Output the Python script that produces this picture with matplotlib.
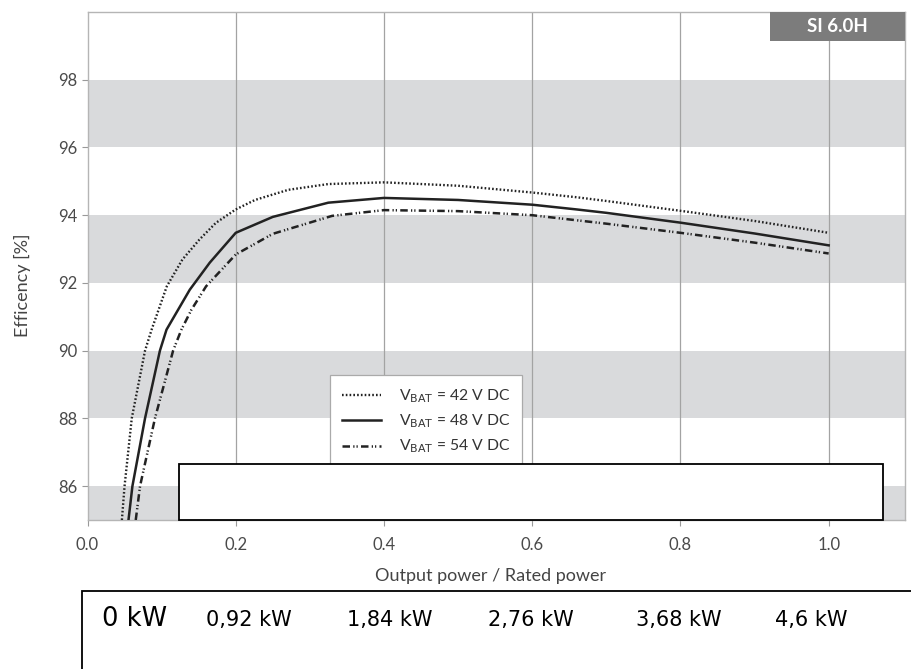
import matplotlib
matplotlib.use("Agg")
import matplotlib.pyplot as plt
from matplotlib.patches import Rectangle

# datos (potencia relativa, eficiencia %)
x42 = [0.0464, 0.050, 0.0597, 0.0776, 0.0865, 0.107, 0.128, 0.151, 0.173, 0.2, 0.226, 0.271, 0.325, 0.4, 0.5, 0.6, 0.66, 0.7, 0.8, 0.9, 1.0]
y42 = [85.0, 86.0, 88.0, 90.0, 90.62, 91.9, 92.69, 93.28, 93.77, 94.17, 94.45, 94.75, 94.92, 94.97, 94.87, 94.67, 94.53, 94.42, 94.13, 93.83, 93.48]

x48 = [0.0553, 0.0606, 0.0776, 0.0977, 0.1066, 0.138, 0.165, 0.2, 0.25, 0.325, 0.4, 0.5, 0.6, 0.66, 0.7, 0.8, 0.9, 1.0]
y48 = [85.0, 86.0, 88.0, 90.0, 90.62, 91.8, 92.6, 93.48, 93.95, 94.37, 94.51, 94.45, 94.31, 94.17, 94.07, 93.78, 93.46, 93.11]

x54 = [0.0651, 0.0709, 0.091, 0.1155, 0.1267, 0.14, 0.160, 0.2, 0.25, 0.33, 0.4, 0.5, 0.6, 0.66, 0.7, 0.8, 0.9, 1.0]
y54 = [85.0, 86.0, 88.0, 90.0, 90.62, 91.2, 91.9, 92.84, 93.45, 93.98, 94.15, 94.12, 94.0, 93.85, 93.75, 93.48, 93.19, 92.87]

etiquetas = [r"V$_{\mathrm{BAT}}$ = 42 V DC", r"V$_{\mathrm{BAT}}$ = 48 V DC", r"V$_{\mathrm{BAT}}$ = 54 V DC"]
xticks = [0.0, 0.2, 0.4, 0.6, 0.8, 1.0]
yticks = [86, 88, 90, 92, 94, 96, 98]
bandas = [(84, 86), (88, 90), (92, 94), (96, 98)]
potencias = ["0 kW", "0,92 kW", "1,84 kW", "2,76 kW", "3,68 kW", "4,6 kW"]
pos_kw = [102, 206, 347, 488, 636, 775]   # px desde la izquierda

plt.rcParams["font.family"] = ["Lato", "DejaVu Sans"]
plt.rcParams["mathtext.default"] = "regular"

W, H = 911, 669
fig = plt.figure(figsize=(W / 100, H / 100), dpi=100)
# ejes: izq 87.5 px, der 905 px, arriba 12 px, abajo 520 px
ax = fig.add_axes([87.5 / W, 1 - 520 / H, (905 - 87.5) / W, (520 - 12) / H])
ax.set_xlim(0, 1.103)
ax.set_ylim(85, 100)

for a, b in bandas:
    ax.axhspan(a, b, color="#d9dadc", lw=0, zorder=0)
for xv in xticks[1:]:
    ax.axvline(xv, color="#a3a3a3", lw=0.9, zorder=1)

ax.plot(x42, y42, color="#222222", lw=1.7, linestyle=(0, (0.7, 0.9)), label=etiquetas[0], zorder=3)
ax.plot(x48, y48, color="#222222", lw=1.8, linestyle="-", label=etiquetas[1], zorder=3)
ax.plot(x54, y54, color="#222222", lw=1.8, linestyle=(0, (3.0, 1.3, 0.5, 0.8, 0.5, 1.3)), label=etiquetas[2], zorder=3)

ax.set_xticks(xticks)
ax.set_xticklabels(["%.1f" % v for v in xticks])
ax.set_yticks(yticks)
ax.tick_params(colors="#999999", labelcolor="#4a4a4a", labelsize=12, length=4, width=0.8)
ax.tick_params(axis="x", pad=8)
for s in ax.spines.values():
    s.set_color("#b5b5b5")
    s.set_linewidth(1.0)

ax.set_xlabel("Output power / Rated power", fontsize=13, color="#444444")
ax.xaxis.set_label_coords((491 - 87.5) / (905 - 87.5), 1 - (568 - 12) / 508)
ax.set_ylabel("Efficency [%]", fontsize=13, color="#444444")
ax.yaxis.set_label_coords((31 - 87.5) / (905 - 87.5), 1 - (285 - 12) / 508)

leg = ax.legend(loc="upper left", bbox_to_anchor=((329.5 - 87.5) / (905 - 87.5), 1 - (375 - 12) / 508),
                borderaxespad=0, fancybox=False, fontsize=11.3, handlelength=2.5,
                handletextpad=1.1, labelspacing=0.5, borderpad=0.8, framealpha=1)
leg.get_frame().set_edgecolor("#aaaaaa")
leg.get_frame().set_linewidth(0.9)
for t in leg.get_texts():
    t.set_color("#333333")

# etiqueta del modelo
x0 = (770 - 87.5) / (905 - 87.5)
ax.add_patch(Rectangle((x0, 1 - 29 / 508), 1 - x0, 29 / 508, transform=ax.transAxes,
                       facecolor="#7c7c7c", edgecolor="none", zorder=5, clip_on=False))
ax.text((x0 + 1) / 2, 1 - 14.5 / 508, "SI 6.0H", transform=ax.transAxes, ha="center", va="center",
        color="white", fontsize=13.5, fontweight="bold", zorder=6)

# rectangulo blanco que tapa la parte baja
fig.patches.append(Rectangle((179 / W, 1 - 520 / H), (883 - 179) / W, (520 - 464) / H,
                             transform=fig.transFigure, facecolor="white", edgecolor="black", lw=1.3, zorder=10))
# caja inferior con las potencias
fig.patches.append(Rectangle((82 / W, 1 - 700 / H), 900 / W, (700 - 591) / H,
                             transform=fig.transFigure, facecolor="white", edgecolor="black", lw=1.3, zorder=10))
for i in range(len(potencias)):
    fs = 18.5 if i == 0 else 15
    fig.text(pos_kw[i] / W, 1 - 626 / H, potencias[i], fontsize=fs, family="DejaVu Sans",
             color="black", ha="left", va="baseline", zorder=11)

plt.savefig("out.png", dpi=100)
